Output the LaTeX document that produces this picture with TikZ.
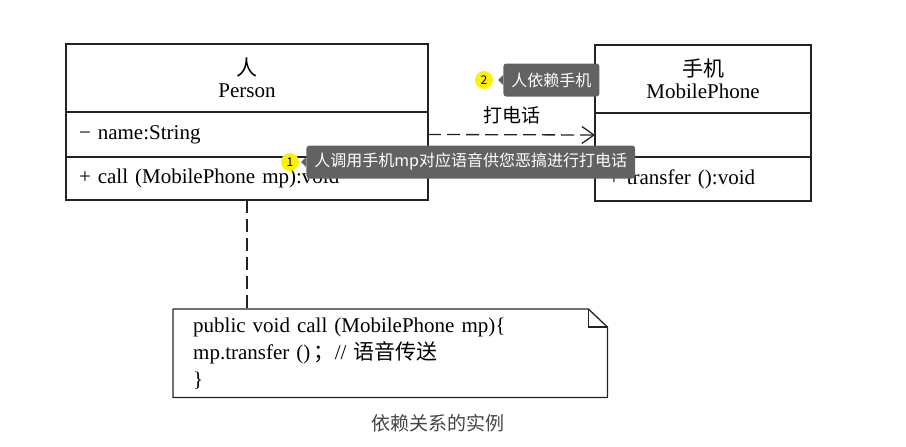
\documentclass[tikz,border=0pt]{standalone}
\usepackage{fontspec}
\setmainfont{Liberation Serif}
\newfontfamily\cjk{Noto Sans CJK SC}
\usepackage{tikz}
\usetikzlibrary{positioning, arrows.meta}
\usepackage{xcolor}
\definecolor{umlline}{HTML}{232323}
\definecolor{tipgray}{HTML}{626262}
\definecolor{capgray}{HTML}{454545}

\tikzset{
  classpart/.style={draw=umlline, line width=1.3pt, outer sep=0pt, inner ysep=0pt,
    font=\fontsize{21}{22}\selectfont},
  classtitle/.style={classpart, align=center, minimum height=68pt},
  member/.style={classpart, inner xsep=13pt, align=left},
  depline/.style={draw=umlline, line width=1.3pt, dash pattern=on 13pt off 6pt},
  badge/.style={circle, fill=yellow, minimum size=18pt, inner sep=0pt,
    font=\cjk\fontsize{12}{12}\selectfont},
  tip/.style={fill=tipgray, text=white, rounded corners=3pt, minimum height=33pt,
    inner xsep=8pt, inner ysep=0pt, font=\cjk\fontsize{16}{16}\selectfont}
}

\begin{document}
\begin{tikzpicture}[x=1pt, y=-1pt]
    \useasboundingbox (0,0) rectangle (906,447);

    % class Person
    \node[classtitle, minimum width=362pt, anchor=north west] (ptitle) at (66,44) {{\cjk 人}\\Person};
    \node[member, text width=336pt, minimum height=45pt, below=0pt of ptitle] (pattr) {− name:String};
    \node[member, text width=336pt, minimum height=43pt, below=0pt of pattr] (pops) {+ call (MobilePhone mp):void};

    % class MobilePhone
    \node[classtitle, minimum width=216pt, anchor=north west] (mtitle) at (595,45) {{\cjk 手机}\\MobilePhone};
    \node[member, text width=190pt, minimum height=44pt, below=0pt of mtitle] (mattr) {};
    \node[member, text width=190pt, minimum height=44pt, below=0pt of mattr] (mops) {+ transfer ():void};

    % note
    \node[anchor=north west, minimum width=434pt, minimum height=88pt, inner xsep=20pt,
      text width=394pt, align=left, font=\fontsize{21}{27}\selectfont] (note) at (173,309)
      {public void call (MobilePhone mp)\{\\mp.transfer ()\,{\cjk ；}// {\cjk 语音传送}\\\}};
    \coordinate (fold) at ([xshift=-19pt]note.north east);
    \coordinate (foldend) at ([yshift=-18pt]note.north east);
    \draw[umlline, line width=1.3pt, line join=round]
      (note.north west) -- (fold) -- (foldend) -- (note.south east) -- (note.south west) -- cycle;
    \draw[umlline, line width=1.3pt] (fold) |- (foldend);

    \draw[depline, -{Straight Barb[length=12pt, width=17pt, line width=1.3pt]}]
    (pattr.east) -- node[above=7pt, font=\cjk\fontsize{19}{19}\selectfont] (call) {打电话} (mattr.west);

    \draw[depline]
    (pops.south) -- (pops.south |- note.north);

    \node[font=\cjk\fontsize{19}{19}\selectfont, text=capgray] (caption) at (438,423) {依赖关系的实例};

    % annotations
    \node[badge] (b1) at (290,162) {1};
    \node[tip, right=7pt of b1] (tip1) {人调用手机mp对应语音供您恶搞进行打电话};
    \fill[tipgray] ([yshift=5pt]tip1.west) -- ([xshift=-5pt]tip1.west) -- ([yshift=-5pt]tip1.west) -- cycle;

    \node[badge] (b2) at (484,80) {2};
    \node[tip, right=10pt of b2] (tip2) {人依赖手机};
    \fill[tipgray] ([yshift=5pt]tip2.west) -- ([xshift=-5pt]tip2.west) -- ([yshift=-5pt]tip2.west) -- cycle;
  \end{tikzpicture}
\end{document}
